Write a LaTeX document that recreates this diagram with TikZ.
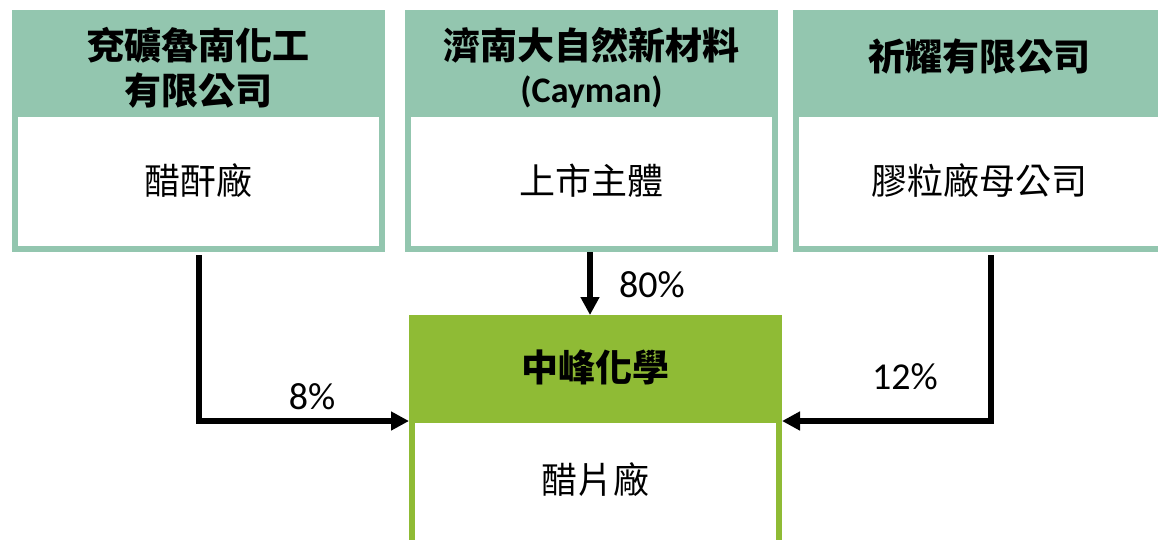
\documentclass[tikz,border=0pt]{standalone}
\usepackage{fontspec}
\newfontfamily\cjk{Noto Sans CJK TC}
\newfontfamily\lat{Carlito}
\usetikzlibrary{arrows.meta,calc}
\definecolor{hg}{HTML}{93C6AF}
\definecolor{bg}{HTML}{8FBB35}
\begin{document}
\begin{tikzpicture}[x=1pt,y=-1pt,
  outerbox/.style={anchor=north west, inner sep=0pt, outer sep=0pt, minimum width=373pt, minimum height=242pt},
  innerbox/.style={anchor=north west, fill=white, inner sep=0pt, outer sep=0pt, minimum width=361pt, minimum height=129pt},
  headtext/.style={font=\cjk\bfseries\fontsize{37}{45}\selectfont, align=center, inner sep=0pt},
  bodytext/.style={font=\cjk\fontsize{36}{40}\selectfont, inner sep=0pt},
  pcttext/.style={font=\lat\fontsize{38}{40}\selectfont, inner sep=0pt},
  arr/.style={line width=6pt, -{Triangle[length=18pt,width=18pt]}}]
\useasboundingbox (0,0) rectangle (1158,539);
\clip (0,0) rectangle (1158,539);
% boxes
\node[outerbox, fill=hg] (A) at (12,10) {};
\node[innerbox] (Aw) at (18,117) {};
\node[headtext] (Ah) at (198.5,67.5) {兗礦魯南化工\\有限公司};
\node[bodytext] (Ab) at (198.5,181) {醋酐廠};

\node[outerbox, fill=hg] (B) at (405,10) {};
\node[innerbox] (Bw) at (411,117) {};
\node[headtext] (Bh) at (591.5,45) {濟南大自然新材料};
\node[font=\lat\bfseries\fontsize{36}{40}\selectfont, inner sep=0pt] (Bc) at (591.5,92) {(Cayman)};
\node[bodytext] (Bb) at (591.5,181) {上市主體};

\node[outerbox, fill=hg] (C) at (793,10) {};
\node[innerbox] (Cw) at (799,117) {};
\node[headtext] (Ch) at (979.5,57) {祈耀有限公司};
\node[bodytext] (Cb) at (979.5,181) {膠粒廠母公司};

\node[outerbox, fill=bg] (D) at (409,315) {};
\node[innerbox, minimum height=150pt] (Dw) at (415,423) {};
\node[headtext] (Dh) at (595.5,367) {中峰化學};
\node[bodytext] (Db) at (595.5,480) {醋片廠};

% arrows
\draw[arr] ($(A.south)+(0,3)$) |- ($(D.west |- Dw.north)+(0,-2)$);
\draw[arr] ($(C.south)+(11.5,3)$) |- ($(D.east |- Dw.north)+(0,-2)$);
\draw[arr] ($(B.south)+(-1.5,0)$) -- ($(B.south |- D.north)+(-1.5,0)$);
% labels
\node[pcttext] (p8) at (312,397) {8\%};
\node[pcttext] (p12) at (905,377) {12\%};
\node[pcttext] (p80) at (652,285) {80\%};
\end{tikzpicture}
\end{document}
